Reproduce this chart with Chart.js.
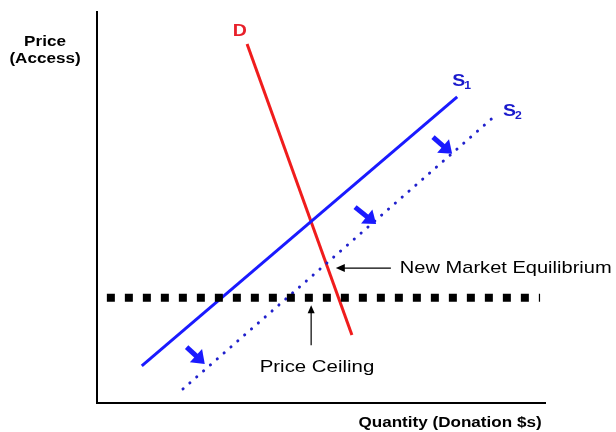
<!DOCTYPE html>
<html>
<head>
<meta charset="utf-8">
<script src="https://cdn.jsdelivr.net/npm/chart.js@4.4.1/dist/chart.umd.min.js"></script>
<style>
  body { margin: 0; background: #fff; }
  canvas { display: block; }
</style>
</head>
<body>
<canvas id="chart_market" width="616" height="432"></canvas>
<script>
// line end points, in axis units (0..100 both ways)
var supply1 = [{x: 10.0, y: 9.5}, {x: 80.4, y: 78.3}];
var supply2 = [{x: 19.2, y: 3.6}, {x: 89.3, y: 73.9}];
var demand = [{x: 33.5, y: 91.8}, {x: 56.9, y: 17.4}];
var ceiling = [{x: 2.2, y: 26.9}, {x: 98.9, y: 26.9}];

// shift arrows (tail -> head)
var shiftArrows = [
  [{x: 75.0, y: 68.0}, {x: 78.6, y: 64.4}],
  [{x: 57.6, y: 50.1}, {x: 61.6, y: 46.4}],
  [{x: 20.0, y: 14.3}, {x: 23.4, y: 10.7}]
];

var labels = [
  {text: "D", x: 31.9, y: 95.1, color: "#e8202a", font: "bold 16px 'Liberation Sans'", stretch: 1.22},
  {text: "New Market Equilibrium", x: 67.6, y: 34.5, color: "#000", font: "17px 'Liberation Sans'", align: "left", stretch: 1.18},
  {text: "Price Ceiling", x: 49.1, y: 9.2, color: "#000", font: "17px 'Liberation Sans'", stretch: 1.2}
];

var stretch = 1.22;

function drawArrowHead(c, x1, y1, x2, y2, len, wid) {
  var a = Math.atan2(y2 - y1, x2 - x1);
  c.beginPath();
  c.moveTo(x2, y2);
  c.lineTo(x2 - len * Math.cos(a) + wid * Math.sin(a), y2 - len * Math.sin(a) - wid * Math.cos(a));
  c.lineTo(x2 - len * Math.cos(a) - wid * Math.sin(a), y2 - len * Math.sin(a) + wid * Math.cos(a));
  c.closePath();
  c.fill();
}

// text stretched sideways like the source picture
function wideText(c, text, x, y, align, s) {
  c.save();
  c.translate(x, y);
  c.scale(s || stretch, 1);
  c.textAlign = align || "center";
  c.fillText(text, 0, 0);
  c.restore();
}

var extras = {
  id: "extras",
  afterDatasetsDraw: function (chart) {
    var c = chart.ctx, xs = chart.scales.x, ys = chart.scales.y;
    var px = function (v) { return xs.getPixelForValue(v); };
    var py = function (v) { return ys.getPixelForValue(v); };
    c.save();

    // blue shift arrows
    c.strokeStyle = "#1a1aff";
    c.fillStyle = "#1a1aff";
    c.lineWidth = 5;
    shiftArrows.forEach(function (a) {
      var x1 = px(a[0].x), y1 = py(a[0].y), x2 = px(a[1].x), y2 = py(a[1].y);
      var ang = Math.atan2(y2 - y1, x2 - x1);
      c.beginPath();
      c.moveTo(x1, y1);
      c.lineTo(x2 - 7 * Math.cos(ang), y2 - 7 * Math.sin(ang));
      c.stroke();
      drawArrowHead(c, x1, y1, x2 + 4 * Math.cos(ang), y2 + 4 * Math.sin(ang), 12, 9);
    });

    // black pointer arrows
    c.strokeStyle = "#000";
    c.fillStyle = "#000";
    c.lineWidth = 1.2;
    c.beginPath();
    c.moveTo(px(65.6), py(34.5));
    c.lineTo(px(54.0), py(34.5));
    c.stroke();
    drawArrowHead(c, px(65.6), py(34.5), px(53.3), py(34.5), 9, 4);
    c.beginPath();
    c.moveTo(px(47.8), py(14.8));
    c.lineTo(px(47.8), py(23.5));
    c.stroke();
    drawArrowHead(c, px(47.8), py(14.8), px(47.8), py(25.0), 8, 3.5);

    // text
    c.textBaseline = "middle";
    labels.forEach(function (l) {
      c.font = l.font;
      c.fillStyle = l.color;
      wideText(c, l.text, px(l.x), py(l.y), l.align, l.stretch);
    });

    // S1 / S2
    c.fillStyle = "#1a1acc";
    [["1", 79.3, 82.2], ["2", 90.6, 74.5]].forEach(function (s) {
      c.font = "bold 16px 'Liberation Sans'";
      wideText(c, "S", px(s[1]), py(s[2]), "left");
      c.font = "bold 10px 'Liberation Sans'";
      wideText(c, s[0], px(s[1]) + 12, py(s[2]) + 5, "left");
    });

    // axis titles
    c.fillStyle = "#000";
    c.font = "bold 14px 'Liberation Sans'";
    wideText(c, "Price", 45, 42);
    wideText(c, "(Access)", 45, 59);
    wideText(c, "Quantity (Donation $s)", 450, 423);
    c.restore();
  }
};

var ctx = document.getElementById("chart_market").getContext("2d");
var chart = new Chart(ctx, {
  type: "scatter",
  data: {
    datasets: [
      {label: "Price Ceiling", data: ceiling, showLine: true, borderColor: "#000", borderWidth: 8, borderDash: [8, 10], pointRadius: 0},
      {label: "S2", data: supply2, showLine: true, borderColor: "#2020cc", borderWidth: 3, borderDash: [0.1, 9], borderCapStyle: "round", pointRadius: 0},
      {label: "S1", data: supply1, showLine: true, borderColor: "#1a1aff", borderWidth: 3, pointRadius: 0},
      {label: "D", data: demand, showLine: true, borderColor: "#f01c1c", borderWidth: 3, pointRadius: 0}
    ]
  },
  options: {
    responsive: false,
    animation: false,
    layout: {padding: {left: 89, right: 71, top: 12, bottom: 21}},
    plugins: {legend: {display: false}, tooltip: {enabled: false}},
    scales: {
      x: {type: "linear", min: 0, max: 100, grid: {display: false}, ticks: {display: false},
          border: {color: "#000", width: 2}},
      y: {type: "linear", min: 0, max: 100, grid: {display: false}, ticks: {display: false},
          border: {color: "#000", width: 2}}
    }
  },
  plugins: [extras]
});
</script>
</body>
</html>
